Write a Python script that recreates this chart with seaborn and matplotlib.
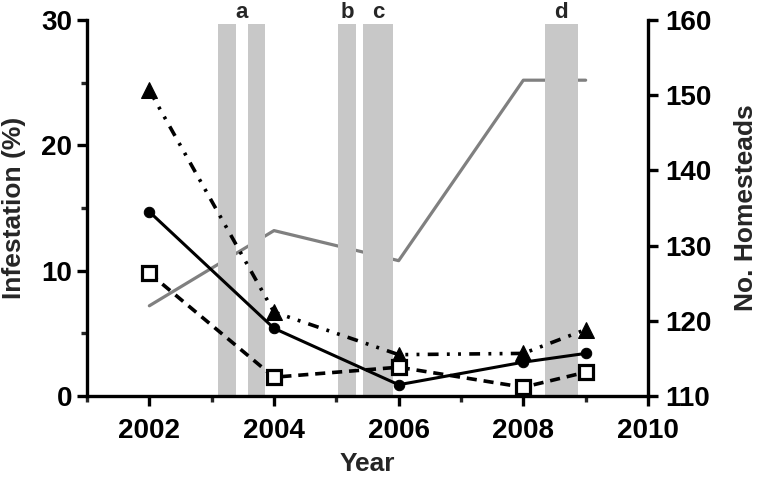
import matplotlib
matplotlib.use('Agg')
import matplotlib.pyplot as plt
from matplotlib.ticker import MultipleLocator
import seaborn as sns

# data
years = [2002, 2004, 2006, 2008, 2009]
infest_circle = [14.7, 5.4, 0.9, 2.7, 3.4]
infest_triangle = [24.4, 6.7, 3.3, 3.4, 5.3]
infest_square = [9.8, 1.5, 2.3, 0.7, 1.9]
homesteads = [122, 132, 128, 152, 152]

# shaded periods (start, end) and their letters
band_start = [2003.10, 2003.58, 2005.03, 2005.43, 2008.34]
band_end = [2003.39, 2003.86, 2005.32, 2005.91, 2008.87]
band_labels = [(2003.48, 'a'), (2005.18, 'b'), (2005.67, 'c'), (2008.6, 'd')]

sns.set_style('ticks')
plt.rcParams['font.family'] = ['Liberation Sans', 'DejaVu Sans']
plt.rcParams['font.weight'] = 'bold'
plt.rcParams['axes.labelweight'] = 'bold'

fig = plt.figure(figsize=(7.6, 4.78), dpi=100)
ax = fig.add_axes([0.1145, 0.1715, 0.7381, 0.7866])
ax2 = ax.twinx()

# gray bands behind everything
for s, e in zip(band_start, band_end):
    ax.axvspan(s, e, ymin=0, ymax=29.7 / 30, color='#c8c8c8', lw=0, zorder=0)
for x, t in band_labels:
    ax.text(x, 30.15, t, ha='center', va='baseline', fontsize=16, fontweight='bold')

sns.lineplot(x=years, y=infest_triangle, ax=ax, color='black', lw=2.6,
             linestyle=(0, (3, 2.3, 0.8, 2.3, 0.8, 2.3)), marker='^', markersize=11,
             markeredgecolor='black', zorder=3)
sns.lineplot(x=years, y=infest_circle, ax=ax, color='black', lw=2.2,
             linestyle='-', marker='o', markersize=7.5,
             markeredgecolor='black', zorder=3)
sns.lineplot(x=years, y=infest_square, ax=ax, color='black', lw=2.6,
             linestyle=(0, (2.8, 1.9)), marker='s', markersize=10.5,
             markerfacecolor='white', markeredgecolor='black', markeredgewidth=2.3, zorder=4)
sns.lineplot(x=years, y=homesteads, ax=ax2, color='#808080', lw=2.3, zorder=2)

ax.set_xlim(2001, 2010)
ax.set_ylim(0, 30)
ax2.set_ylim(110, 160)
ax.set_xticks([2002, 2004, 2006, 2008, 2010])
ax.xaxis.set_minor_locator(MultipleLocator(1))
ax.set_yticks([0, 10, 20, 30])
ax.yaxis.set_minor_locator(MultipleLocator(5))
ax2.set_yticks([110, 120, 130, 140, 150, 160])

ax.set_xlabel('Year', fontsize=19)
ax.set_ylabel('Infestation (%)', fontsize=19)
ax2.set_ylabel('No. Homesteads', fontsize=19)
ax.xaxis.set_label_coords(0.5, -0.149)
ax.yaxis.set_label_coords(-0.1087, 0.5)
ax2.yaxis.set_label_coords(1.1533, 0.5)

for a in (ax, ax2):
    a.spines['top'].set_visible(False)
    for sp in a.spines.values():
        sp.set_linewidth(2.4)
        sp.set_color('black')
    a.tick_params(which='major', length=7, width=2.4, labelsize=20, colors='black')
    a.tick_params(which='minor', length=4, width=2.4)
ax.tick_params(axis='x', which='major', pad=9)
ax.tick_params(axis='y', which='major', pad=3.5)
ax2.tick_params(axis='y', which='major', pad=5.5)
ax.spines['right'].set_visible(False)
ax2.spines['left'].set_visible(False)
ax2.spines['bottom'].set_visible(False)

ax.set_zorder(ax2.get_zorder() + 1)
ax.patch.set_visible(False)

fig.savefig('out.png', dpi=100)
